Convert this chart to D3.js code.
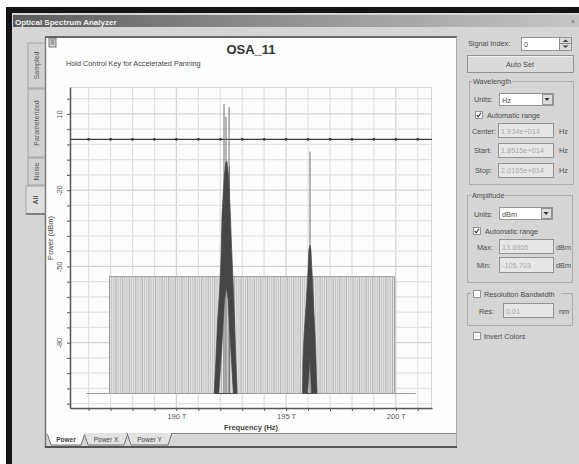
<!DOCTYPE html>
<html><head><meta charset="utf-8">
<script src="https://cdn.jsdelivr.net/npm/d3@7"></script>
<style>body{margin:0;background:#fff;overflow:hidden}svg{display:block;font-family:"Liberation Sans",Arial,sans-serif}</style>
</head><body><svg id="c" width="579" height="464"></svg>
<script>
// ---------------- data ----------------
const chartTitle = "OSA_11";
const hintText = "Hold Control Key for Accelerated Panning";
const freqDomain = [185.15, 201.65];   // THz (Start 1.8515e+014 .. Stop 2.0165e+014 Hz)
const powerDomain = [-105.703, 20.6];  // dBm
const channelFreqs = [
  186.95,
  187.05,187.15,187.25,187.35,187.45,187.55,187.65,187.75,187.85,187.95,
  188.05,188.15,188.25,188.35,188.45,188.55,188.65,188.75,188.85,188.95,
  189.05,189.15,189.25,189.35,189.45,189.55,189.65,189.75,189.85,189.95,
  190.05,190.15,190.25,190.35,190.45,190.55,190.65,190.75,190.85,190.95,
  191.05,191.15,191.25,191.35,191.45,191.55,191.65,191.75,191.85,191.95,
  192.05,192.15,192.25,192.35,192.45,192.55,192.65,192.75,192.85,192.95,
  193.05,193.15,193.25,193.35,193.45,193.55,193.65,193.75,193.85,193.95,
  194.05,194.15,194.25,194.35,194.45,194.55,194.65,194.75,194.85,194.95,
  195.05,195.15,195.25,195.35,195.45,195.55,195.65,195.75,195.85,195.95,
  196.05,196.15,196.25,196.35,196.45,196.55,196.65,196.75,196.85,196.95,
  197.05,197.15,197.25,197.35,197.45,197.55,197.65,197.75,197.85,197.95,
  198.05,198.15,198.25,198.35,198.45,198.55,198.65,198.75,198.85,198.95,
  199.05,199.15,199.25,199.35,199.45,199.55,199.65,199.75,199.85,199.95
];
const combLevel = -54;
const floorLevel = -100;
const floorSpan = [185.9, 200.9];
const refLevel = 0;
const peak1Outline = [[191.72,-100],[191.80,-86.9],[191.88,-71.1],[191.97,-59.3],[192.03,-47.5],[192.08,-29.8],[192.13,-21.9],[192.19,-14],[192.25,-9.3],[192.30,-8.5],[192.37,-14],[192.45,-27.8],[192.52,-43.5],[192.58,-55.4],[192.65,-71.1],[192.71,-86.9],[192.77,-100]];
const peak1Gap = [[191.93,-100],[192.06,-82.9],[192.19,-63.2],[192.28,-58.1],[192.36,-63.2],[192.48,-82.9],[192.60,-100]];
const peak1Spikes = [[192.17,13.89],[192.40,12.7],[192.26,8.9],[192.42,-10.7]];
const peak2Outline = [[195.75,-100],[195.77,-86.9],[195.82,-77],[195.91,-65.2],[195.98,-55.4],[196.04,-43.5],[196.09,-41.6],[196.13,-43.5],[196.20,-55.4],[196.25,-65.2],[196.32,-77],[196.36,-86.9],[196.41,-100]];
const peak2Gap = [[195.98,-100],[196.09,-84.9],[196.16,-100]];
const peak2Spikes = [[196.09,-4.8]];
const xGridValues = [186,187,188,189,190,191,192,193,194,195,196,197,198,199,200,201];
const xLabelValues = [190,195,200];
const yGridValues = [16,10,4,-2,-8,-14,-20,-26,-32,-38,-44,-50,-56,-62,-68,-74,-80,-86,-92,-98,-104];
const yLabelValues = [10,-20,-50,-80];
const xAxisTitle = "Frequency (Hz)";
const yAxisTitle = "Power (dBm)";
const sideTabs = ["Sampled","Parameterized","Noise","All"];
const bottomTabs = ["Power","Power X","Power Y"];

// ---------------- drawing ----------------
const svg = d3.select("#c");
const defs = svg.append("defs");
const g1 = defs.append("linearGradient").attr("id","tb");
g1.append("stop").attr("offset","0").attr("stop-color","#5c5c5c");
g1.append("stop").attr("offset","0.45").attr("stop-color","#8e8e8e");
g1.append("stop").attr("offset","1").attr("stop-color","#c6c6c6");

// window frame
svg.append("rect").attr("x",0).attr("y",0).attr("width",579).attr("height",464).attr("fill","#fff");
svg.append("rect").attr("x",6).attr("y",7).attr("width",573).attr("height",457).attr("fill","#141414");
svg.append("rect").attr("x",12).attr("y",13).attr("width",567).attr("height",451).attr("fill","#d5d5d5");
svg.append("rect").attr("x",13).attr("y",15).attr("width",566).attr("height",12).attr("fill","url(#tb)");
svg.append("text").attr("x",15).attr("y",24.5).attr("font-size",8).attr("font-weight","bold").attr("fill","#f2f2f2").text("Optical Spectrum Analyzer");
svg.append("text").attr("x",571).attr("y",23.5).attr("font-size",7).attr("fill","#555").text("×");

// plot panel
svg.append("rect").attr("x",45).attr("y",36).attr("width",412).attr("height",411).attr("fill","#d6d6d6");
svg.append("rect").attr("x",46).attr("y",38).attr("width",410).attr("height",395).attr("fill","#fdfdfd");
svg.append("line").attr("x1",45).attr("x2",457).attr("y1",37).attr("y2",37).attr("stroke","#666").attr("stroke-width",2);
svg.append("line").attr("x1",45.5).attr("x2",45.5).attr("y1",36).attr("y2",448).attr("stroke","#777").attr("stroke-width",1.5);
svg.append("line").attr("x1",456.5).attr("x2",456.5).attr("y1",37).attr("y2",447).attr("stroke","#aaa").attr("stroke-width",1);
svg.append("line").attr("x1",45).attr("x2",457).attr("y1",447).attr("y2",447).attr("stroke","#555").attr("stroke-width",2);
svg.append("line").attr("x1",168).attr("x2",456).attr("y1",433.5).attr("y2",433.5).attr("stroke","#8a8a8a");

// document icon
const ic = svg.append("g").attr("transform","translate(49,38)");
ic.append("rect").attr("width",7).attr("height",9).attr("fill","#ddd").attr("stroke","#555").attr("stroke-width",0.8);
[2,4,6].forEach(v=>ic.append("line").attr("x1",1.5).attr("x2",5.5).attr("y1",v).attr("y2",v).attr("stroke","#444").attr("stroke-width",0.8));

// bottom tabs
const btPos = [[47,85],[84,128],[127,172]];
bottomTabs.forEach((t,i)=>{
  const [a,b] = btPos[i];
  svg.append("path").attr("d",`M${a},433 L${a+4},445 L${b-4},445 L${b},433`)
    .attr("fill", i===0?"#fbfbfb":"#e2e2e2").attr("stroke","#666").attr("stroke-width",0.9);
  svg.append("text").attr("x",(a+b)/2).attr("y",442).attr("text-anchor","middle").attr("font-size",6.5)
    .attr("font-weight", i===0?"bold":"normal").attr("fill","#444").text(t);
});
svg.append("line").attr("x1",47).attr("x2",85).attr("y1",433.5).attr("y2",433.5).attr("stroke","#fbfbfb").attr("stroke-width",1.5);

// side tabs
const stPos = [[43,88],[89,157],[158,185],[186,214]];
sideTabs.forEach((t,i)=>{
  const [a,b] = stPos[i];
  const sel = i===3;
  svg.append("rect").attr("x",sel?26:28).attr("y",a).attr("width",sel?19:17).attr("height",b-a)
    .attr("fill", sel?"#dedede":"#d2d2d2").attr("stroke","#9a9a9a").attr("stroke-width",0.8);
  svg.append("text").attr("transform",`translate(${sel?38:39},${(a+b)/2}) rotate(-90)`).attr("text-anchor","middle")
    .attr("font-size",7).attr("font-weight", sel?"bold":"normal").attr("fill","#555").text(t);
});
svg.append("line").attr("x1",26).attr("x2",45).attr("y1",214).attr("y2",214).attr("stroke","#555").attr("stroke-width",1.2);

// title + hint
svg.append("text").attr("x",251).attr("y",53.5).attr("text-anchor","middle").attr("font-size",13).attr("font-weight","bold").attr("fill","#333").text(chartTitle);
svg.append("text").attr("x",66).attr("y",66).attr("font-size",7.3).attr("fill","#444").text(hintText);

// scales
const x = d3.scaleLinear().domain(freqDomain).range([70,432]);
const y = d3.scaleLinear().domain(powerDomain).range([408,87]);

const plot = svg.append("g");
// grid
plot.selectAll(".gx").data(xGridValues).join("line")
  .attr("x1",d=>x(d)).attr("x2",d=>x(d)).attr("y1",87).attr("y2",408)
  .attr("stroke",d=>xLabelValues.includes(d)?"#d2d2d2":"#e0e0e0").attr("stroke-width",1.2);
plot.selectAll(".gy").data(yGridValues).join("line")
  .attr("x1",70).attr("x2",432).attr("y1",d=>y(d)).attr("y2",d=>y(d))
  .attr("stroke",d=>yLabelValues.includes(d)?"#d2d2d2":"#e2e2e2").attr("stroke-width",1.2);
plot.append("line").attr("x1",70).attr("x2",432).attr("y1",87.5).attr("y2",87.5).attr("stroke","#d6d6d6");
plot.append("line").attr("x1",431.5).attr("x2",431.5).attr("y1",87).attr("y2",408).attr("stroke","#d6d6d6");

// comb of channels
const cmin = d3.min(channelFreqs), cmax = d3.max(channelFreqs);
plot.append("path").datum([cmin,cmax])
  .attr("d", d3.area().x(d=>x(d)).y0(y(floorLevel)).y1(y(combLevel)))
  .attr("fill","#e3e3e3");
plot.append("line").attr("x1",x(floorSpan[0])).attr("x2",x(floorSpan[1])).attr("y1",y(floorLevel)).attr("y2",y(floorLevel))
  .attr("stroke","#9a9a9a").attr("stroke-width",1);
plot.selectAll(".ch").data(channelFreqs).join("line")
  .attr("x1",d=>x(d)).attr("x2",d=>x(d)).attr("y1",y(floorLevel)).attr("y2",y(combLevel))
  .attr("stroke",(d,i)=>i%3===0?"#9a9a9a":"#b6b6b6").attr("stroke-width",0.7);
plot.append("line").attr("x1",x(cmin)).attr("x2",x(cmax)).attr("y1",y(combLevel)).attr("y2",y(combLevel))
  .attr("stroke","#9c9c9c").attr("stroke-width",1);
[cmin,cmax].forEach(f=>plot.append("line").attr("x1",x(f)).attr("x2",x(f)).attr("y1",y(floorLevel)).attr("y2",y(combLevel)).attr("stroke","#999"));

// reference line
plot.append("line").attr("x1",70).attr("x2",432).attr("y1",y(refLevel)).attr("y2",y(refLevel))
  .attr("stroke","#3a3a3a").attr("stroke-width",1.3);
plot.selectAll(".rd").data(xGridValues).join("circle")
  .attr("cx",d=>x(d)).attr("cy",y(refLevel)).attr("r",1.4).attr("fill","#333");

// signal peaks
const ln = d3.line().x(d=>x(d[0])).y(d=>y(d[1]));
[[peak1Outline,peak1Gap,peak1Spikes],[peak2Outline,peak2Gap,peak2Spikes]].forEach(([o,gp,sp])=>{
  plot.selectAll(null).data(sp).join("line")
    .attr("x1",d=>x(d[0])).attr("x2",d=>x(d[0])).attr("y1",y(floorLevel)).attr("y2",d=>y(d[1]))
    .attr("stroke","#7c7c7c").attr("stroke-width",1.1);
  plot.append("path").attr("d", ln(o)+"Z"+ln(gp)+"Z").attr("fill-rule","evenodd")
    .attr("fill","#464646").attr("stroke","#464646").attr("stroke-width",0.7);
});

// axes
const xa = svg.append("g").attr("transform","translate(0,408)")
  .call(d3.axisBottom(x).tickValues(xGridValues).tickSize(3).tickSizeOuter(0)
    .tickFormat(d=>xLabelValues.includes(d)? d+" T":""));
xa.select(".domain").attr("stroke","#555").attr("stroke-width",1.5);
xa.selectAll(".tick line").attr("stroke","#555");
xa.selectAll(".tick text").attr("font-size",7.5).attr("fill","#555").attr("font-family","Liberation Sans, Arial, sans-serif").attr("y",6);

const ya = svg.append("g").attr("transform","translate(70,0)")
  .call(d3.axisLeft(y).tickValues(yGridValues).tickSize(3).tickSizeOuter(0)
    .tickFormat(d=>yLabelValues.includes(d)? String(d):""));
ya.select(".domain").attr("stroke","#555").attr("stroke-width",1.5);
ya.selectAll(".tick line").attr("stroke","#555");
ya.selectAll(".tick text").attr("font-size",7.5).attr("fill","#555").attr("font-family","Liberation Sans, Arial, sans-serif")
  .attr("transform","rotate(-90)").attr("x",0).attr("y",-8).attr("dy",0).attr("text-anchor","middle");

svg.append("text").attr("x",251).attr("y",430).attr("text-anchor","middle").attr("font-size",7.5).attr("font-weight","bold").attr("fill","#444").text(xAxisTitle);
svg.append("text").attr("transform","translate(53,238) rotate(-90)").attr("text-anchor","middle").attr("font-size",7.5).attr("fill","#444").text(yAxisTitle);

// ---------------- right control panel ----------------
const fs = 7.3, fc = "#4a4a4a";
function T(xx,yy,s,o={}){ return svg.append("text").attr("x",xx).attr("y",yy).attr("font-size",o.size||fs)
  .attr("fill",o.fill||fc).attr("text-anchor",o.anchor||"start").attr("font-weight",o.bold?"bold":"normal").text(s); }
function box(xx,yy,w,h,fill){ svg.append("rect").attr("x",xx+0.5).attr("y",yy+0.5).attr("width",w).attr("height",h)
  .attr("fill",fill).attr("stroke","#8a8a8a").attr("stroke-width",0.9); }
function group(xx,yy,w,h,label,lx){ svg.append("rect").attr("x",xx+0.5).attr("y",yy+0.5).attr("width",w).attr("height",h)
  .attr("fill","none").attr("stroke","#a8a8a8").attr("stroke-width",0.9);
  if(label){ const t=T(lx,yy+3,label); const bb=t.node().getBBox();
    svg.insert("rect",()=>t.node()).attr("x",bb.x-1).attr("y",bb.y).attr("width",bb.width+2).attr("height",bb.height).attr("fill","#d5d5d5"); } }
function check(xx,yy,on){ box(xx,yy,7,7,"#fafafa"); if(on) svg.append("path")
  .attr("d",`M${xx+1.7},${yy+4} L${xx+3.2},${yy+5.8} L${xx+6},${yy+1.8}`).attr("fill","none").attr("stroke","#333").attr("stroke-width",1.1); }
function select(xx,yy,w,h,s){ box(xx,yy,w,h,"#fff"); T(xx+3,yy+h-2.5,s);
  box(xx+w-11,yy+1,10,h-2,"#dcdcdc");
  svg.append("path").attr("d",`M${xx+w-8.5},${yy+h/2-1} L${xx+w-3.5},${yy+h/2-1} L${xx+w-6},${yy+h/2+2}Z`).attr("fill","#333"); }

T(468,46,"Signal Index:");
box(521,37,38,13,"#fff"); T(524,46.5,"0");
box(559,37,12,13,"#dadada");
svg.append("line").attr("x1",559.5).attr("x2",571.5).attr("y1",43.5).attr("y2",43.5).attr("stroke","#8a8a8a");
svg.append("path").attr("d","M562.5,42 L568.5,42 L565.5,39.5Z").attr("fill","#444");
svg.append("path").attr("d","M562.5,45.5 L568.5,45.5 L565.5,48Z").attr("fill","#444");

box(467,55,106,17,"#dadada");
svg.append("line").attr("x1",468).attr("x2",572).attr("y1",56.5).attr("y2",56.5).attr("stroke","#f2f2f2");
T(520,66.5,"Auto Set",{anchor:"middle"});

group(469,81,104,103,"Wavelength",473);
T(474,101.5,"Units:"); select(499,93,54,12,"Hz");
check(475,111,true); T(487,118,"Automatic range");
T(472,133.5,"Center:"); box(498,123,55,14,"#e6e6e6"); T(501,133.5,"1.934e+014",{fill:"#a8a8a8"}); T(559,133.5,"Hz");
T(474,152.5,"Start:"); box(498,143,55,14,"#e6e6e6"); T(501,152.5,"1.8515e+014",{fill:"#a8a8a8"}); T(559,152.5,"Hz");
T(475,172.5,"Stop:"); box(498,163,55,14,"#e6e6e6"); T(501,172.5,"2.0165e+014",{fill:"#a8a8a8"}); T(559,172.5,"Hz");

group(467,195,105,87,"Amplitude",472);
T(474,216.5,"Units:"); select(499,207,53,12,"dBm");
check(473,227,true); T(485,234,"Automatic range");
T(477,249.5,"Max:"); box(499,239,54,14,"#e6e6e6"); T(502,249.5,"13.8905",{fill:"#a8a8a8"}); T(556,249.5,"dBm");
T(477,268,"Min:"); box(499,257,54,15,"#e6e6e6"); T(502,268,"-105.703",{fill:"#a8a8a8"}); T(556,268,"dBm");

group(467,293,105,32,null);
svg.append("rect").attr("x",471).attr("y",288).attr("width",90).attr("height",10).attr("fill","#d5d5d5");
check(473,290,false); T(484,297,"Resolution Bandwidth");
T(479,314,"Res:"); box(503,303,50,14,"#e6e6e6"); T(506,313.5,"0.01",{fill:"#a8a8a8"}); T(559,314,"nm");

check(473,332,false); T(484,339,"Invert Colors");
</script></body></html>
